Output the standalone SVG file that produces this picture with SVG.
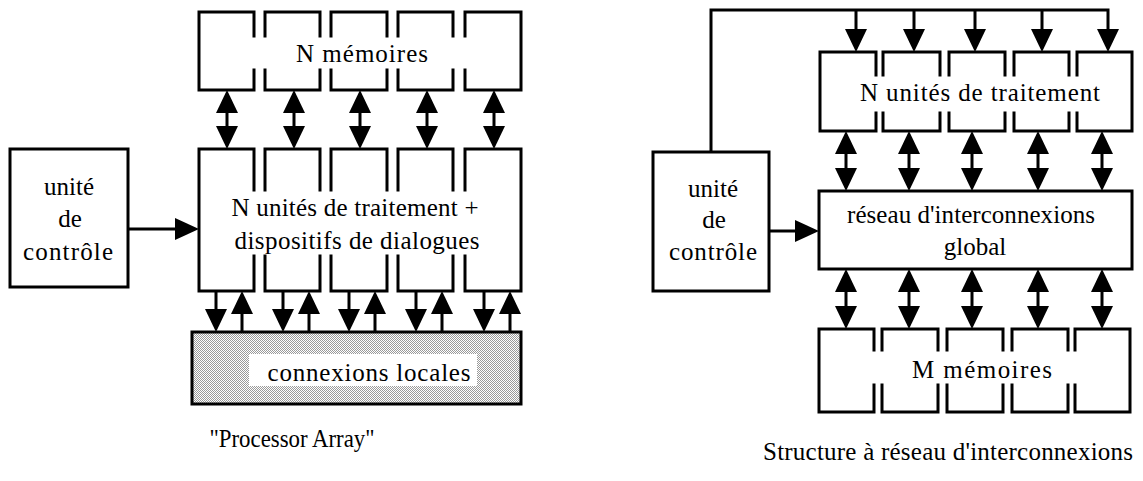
<svg xmlns="http://www.w3.org/2000/svg" xmlns:xlink="http://www.w3.org/1999/xlink" width="1143" height="481" viewBox="0 0 1143 481">
<style>
.bx{fill:none;stroke:#000;stroke-width:3;stroke-linecap:square;stroke-linejoin:miter}
.ln{fill:none;stroke:#000;stroke-width:3;stroke-linecap:butt;stroke-linejoin:miter}
.t{font-family:"Liberation Serif","Times New Roman",serif;font-size:25px;fill:#000;text-anchor:middle}
.hd{fill:#000}
</style>
<defs>
<pattern id="stip" width="2" height="2" patternUnits="userSpaceOnUse">
<rect width="2" height="2" fill="#fff"/>
<rect width="1" height="1" fill="#9a9a9a"/>
<rect x="1" y="1" width="1" height="1" fill="#9a9a9a"/>
</pattern>
<path id="hd" class="hd" d="M0,0 L-11,-23 L11,-23 Z"/>
<path id="hb" class="hd" d="M0,0 L-11,-24 L11,-24 Z"/>
</defs>
<rect width="1143" height="481" fill="#fff"/>

<!-- LEFT DIAGRAM -->
<g id="memoires-N">
<path class="bx" d="M254,36 V12 H199 V90 H254 V70"/>
<path class="bx" d="M265,36 V12 H320 V36 M320,70 V90 H265 V70"/>
<path class="bx" d="M331,36 V12 H387 V36 M387,70 V90 H331 V70"/>
<path class="bx" d="M398,36 V12 H453 V36 M453,70 V90 H398 V70"/>
<path class="bx" d="M465,36 V12 H521 V90 H465 V70"/>
<text class="t" x="362" y="62" textLength="132" lengthAdjust="spacing">N mémoires</text>
</g>
<g id="unites-traitement-dialogues">
<path class="bx" d="M254,190 V149 H199 V291 H254 V256"/>
<path class="bx" d="M265,190 V149 H320 V190 M320,256 V291 H265 V256"/>
<path class="bx" d="M331,190 V149 H387 V190 M387,256 V291 H331 V256"/>
<path class="bx" d="M398,190 V149 H453 V190 M453,256 V291 H398 V256"/>
<path class="bx" d="M465,190 V149 H521 V291 H465 V256"/>
<text class="t" x="355" y="216" textLength="247" lengthAdjust="spacing">N unités de traitement +</text>
<text class="t" x="357" y="249" textLength="245" lengthAdjust="spacing">dispositifs de dialogues</text>
</g>
<g id="controle-left">
<rect class="bx" x="10" y="149" width="118" height="138"/>
<text class="t" x="69" y="195">unité</text>
<text class="t" x="70" y="227">de</text>
<text class="t" x="68" y="260" textLength="90" lengthAdjust="spacing">contrôle</text>
</g>
<g id="connexions-locales">
<rect x="192" y="332" width="329" height="72" fill="url(#stip)" stroke="#000" stroke-width="3"/>
<rect x="249" y="354" width="228" height="32" fill="#fff"/>
<text class="t" x="369" y="381" textLength="203" lengthAdjust="spacing">connexions locales</text>
</g>
<text class="t" x="292" y="447" textLength="165" lengthAdjust="spacingAndGlyphs">"Processor Array"</text>

<!-- RIGHT DIAGRAM -->
<g id="controle-right">
<rect class="bx" x="653" y="152" width="116" height="139"/>
<text class="t" x="713" y="197">unité</text>
<text class="t" x="714" y="228">de</text>
<text class="t" x="713" y="260" textLength="88" lengthAdjust="spacing">contrôle</text>
</g>
<g id="unites-traitement-N">
<path class="bx" d="M876,75 V52 H820 V131 H876 V113"/>
<path class="bx" d="M883,75 V52 H940 V75 M940,113 V131 H883 V113"/>
<path class="bx" d="M949,75 V52 H1005 V75 M1005,113 V131 H949 V113"/>
<path class="bx" d="M1014,75 V52 H1069 V75 M1069,113 V131 H1014 V113"/>
<path class="bx" d="M1077,75 V52 H1132 V131 H1077 V113"/>
<text class="t" x="980" y="101" textLength="240" lengthAdjust="spacing">N unités de traitement</text>
</g>
<g id="reseau-global">
<rect class="bx" x="819" y="191" width="313" height="78"/>
<text class="t" x="971" y="223" textLength="248" lengthAdjust="spacing">réseau d'interconnexions</text>
<text class="t" x="975" y="255">global</text>
</g>
<g id="memoires-M">
<path class="bx" d="M874,350 V329 H819 V412 H874 V385"/>
<path class="bx" d="M882,350 V329 H938 V350 M938,385 V412 H882 V385"/>
<path class="bx" d="M947,350 V329 H1003 V350 M1003,385 V412 H947 V385"/>
<path class="bx" d="M1012,350 V329 H1068 V350 M1068,385 V412 H1012 V385"/>
<path class="bx" d="M1075,350 V329 H1130 V412 H1075 V385"/>
<text class="t" x="982" y="378" textLength="140" lengthAdjust="spacing">M mémoires</text>
</g>
<text class="t" x="948" y="460" textLength="370" lengthAdjust="spacing">Structure à réseau d'interconnexions</text>

<g id="connectors">
<!-- left: memories <-> processing -->
<path class="ln" d="M227,112 V127 M294,112 V127 M360,112 V127 M427,112 V127 M494,112 V127"/>
<use href="#hd" transform="translate(227,90) rotate(180)"/><use href="#hd" transform="translate(227,149)"/>
<use href="#hd" transform="translate(294,90) rotate(180)"/><use href="#hd" transform="translate(294,149)"/>
<use href="#hd" transform="translate(360,90) rotate(180)"/><use href="#hd" transform="translate(360,149)"/>
<use href="#hd" transform="translate(427,90) rotate(180)"/><use href="#hd" transform="translate(427,149)"/>
<use href="#hd" transform="translate(494,90) rotate(180)"/><use href="#hd" transform="translate(494,149)"/>
<!-- left: control -> processing -->
<path class="ln" d="M128,229 H176"/>
<use href="#hb" transform="translate(199,229) rotate(-90)"/>
<!-- left: processing <-> connexions locales -->
<path class="ln" d="M216,291 V310 M283,291 V310 M349,291 V310 M416,291 V310 M484,291 V310"/>
<use href="#hd" transform="translate(216,332)"/>
<use href="#hd" transform="translate(283,332)"/>
<use href="#hd" transform="translate(349,332)"/>
<use href="#hd" transform="translate(416,332)"/>
<use href="#hd" transform="translate(484,332)"/>
<path class="ln" d="M242,313 V332 M309,313 V332 M375,313 V332 M442,313 V332 M510,313 V332"/>
<use href="#hd" transform="translate(242,291) rotate(180)"/>
<use href="#hd" transform="translate(309,291) rotate(180)"/>
<use href="#hd" transform="translate(375,291) rotate(180)"/>
<use href="#hd" transform="translate(442,291) rotate(180)"/>
<use href="#hd" transform="translate(510,291) rotate(180)"/>

<!-- right: control bus to processing units -->
<path class="ln" d="M711,152 V10 H1108 V30 M856,10 V30 M914,10 V30 M975,10 V30 M1042,10 V30"/>
<use href="#hd" transform="translate(856,52)"/>
<use href="#hd" transform="translate(914,52)"/>
<use href="#hd" transform="translate(975,52)"/>
<use href="#hd" transform="translate(1042,52)"/>
<use href="#hd" transform="translate(1108,52)"/>
<!-- right: control -> reseau -->
<path class="ln" d="M769,231 H796"/>
<use href="#hb" transform="translate(819,231) rotate(-90)"/>
<!-- right: processing <-> reseau -->
<path class="ln" d="M846,153 V169 M909,153 V169 M972,153 V169 M1038,153 V169 M1102,153 V169"/>
<use href="#hd" transform="translate(846,131) rotate(180)"/><use href="#hd" transform="translate(846,191)"/>
<use href="#hd" transform="translate(909,131) rotate(180)"/><use href="#hd" transform="translate(909,191)"/>
<use href="#hd" transform="translate(972,131) rotate(180)"/><use href="#hd" transform="translate(972,191)"/>
<use href="#hd" transform="translate(1038,131) rotate(180)"/><use href="#hd" transform="translate(1038,191)"/>
<use href="#hd" transform="translate(1102,131) rotate(180)"/><use href="#hd" transform="translate(1102,191)"/>
<!-- right: reseau <-> memories -->
<path class="ln" d="M846,291 V307 M909,291 V307 M972,291 V307 M1038,291 V307 M1102,291 V307"/>
<use href="#hd" transform="translate(846,269) rotate(180)"/><use href="#hd" transform="translate(846,329)"/>
<use href="#hd" transform="translate(909,269) rotate(180)"/><use href="#hd" transform="translate(909,329)"/>
<use href="#hd" transform="translate(972,269) rotate(180)"/><use href="#hd" transform="translate(972,329)"/>
<use href="#hd" transform="translate(1038,269) rotate(180)"/><use href="#hd" transform="translate(1038,329)"/>
<use href="#hd" transform="translate(1102,269) rotate(180)"/><use href="#hd" transform="translate(1102,329)"/>
</g>
</svg>
